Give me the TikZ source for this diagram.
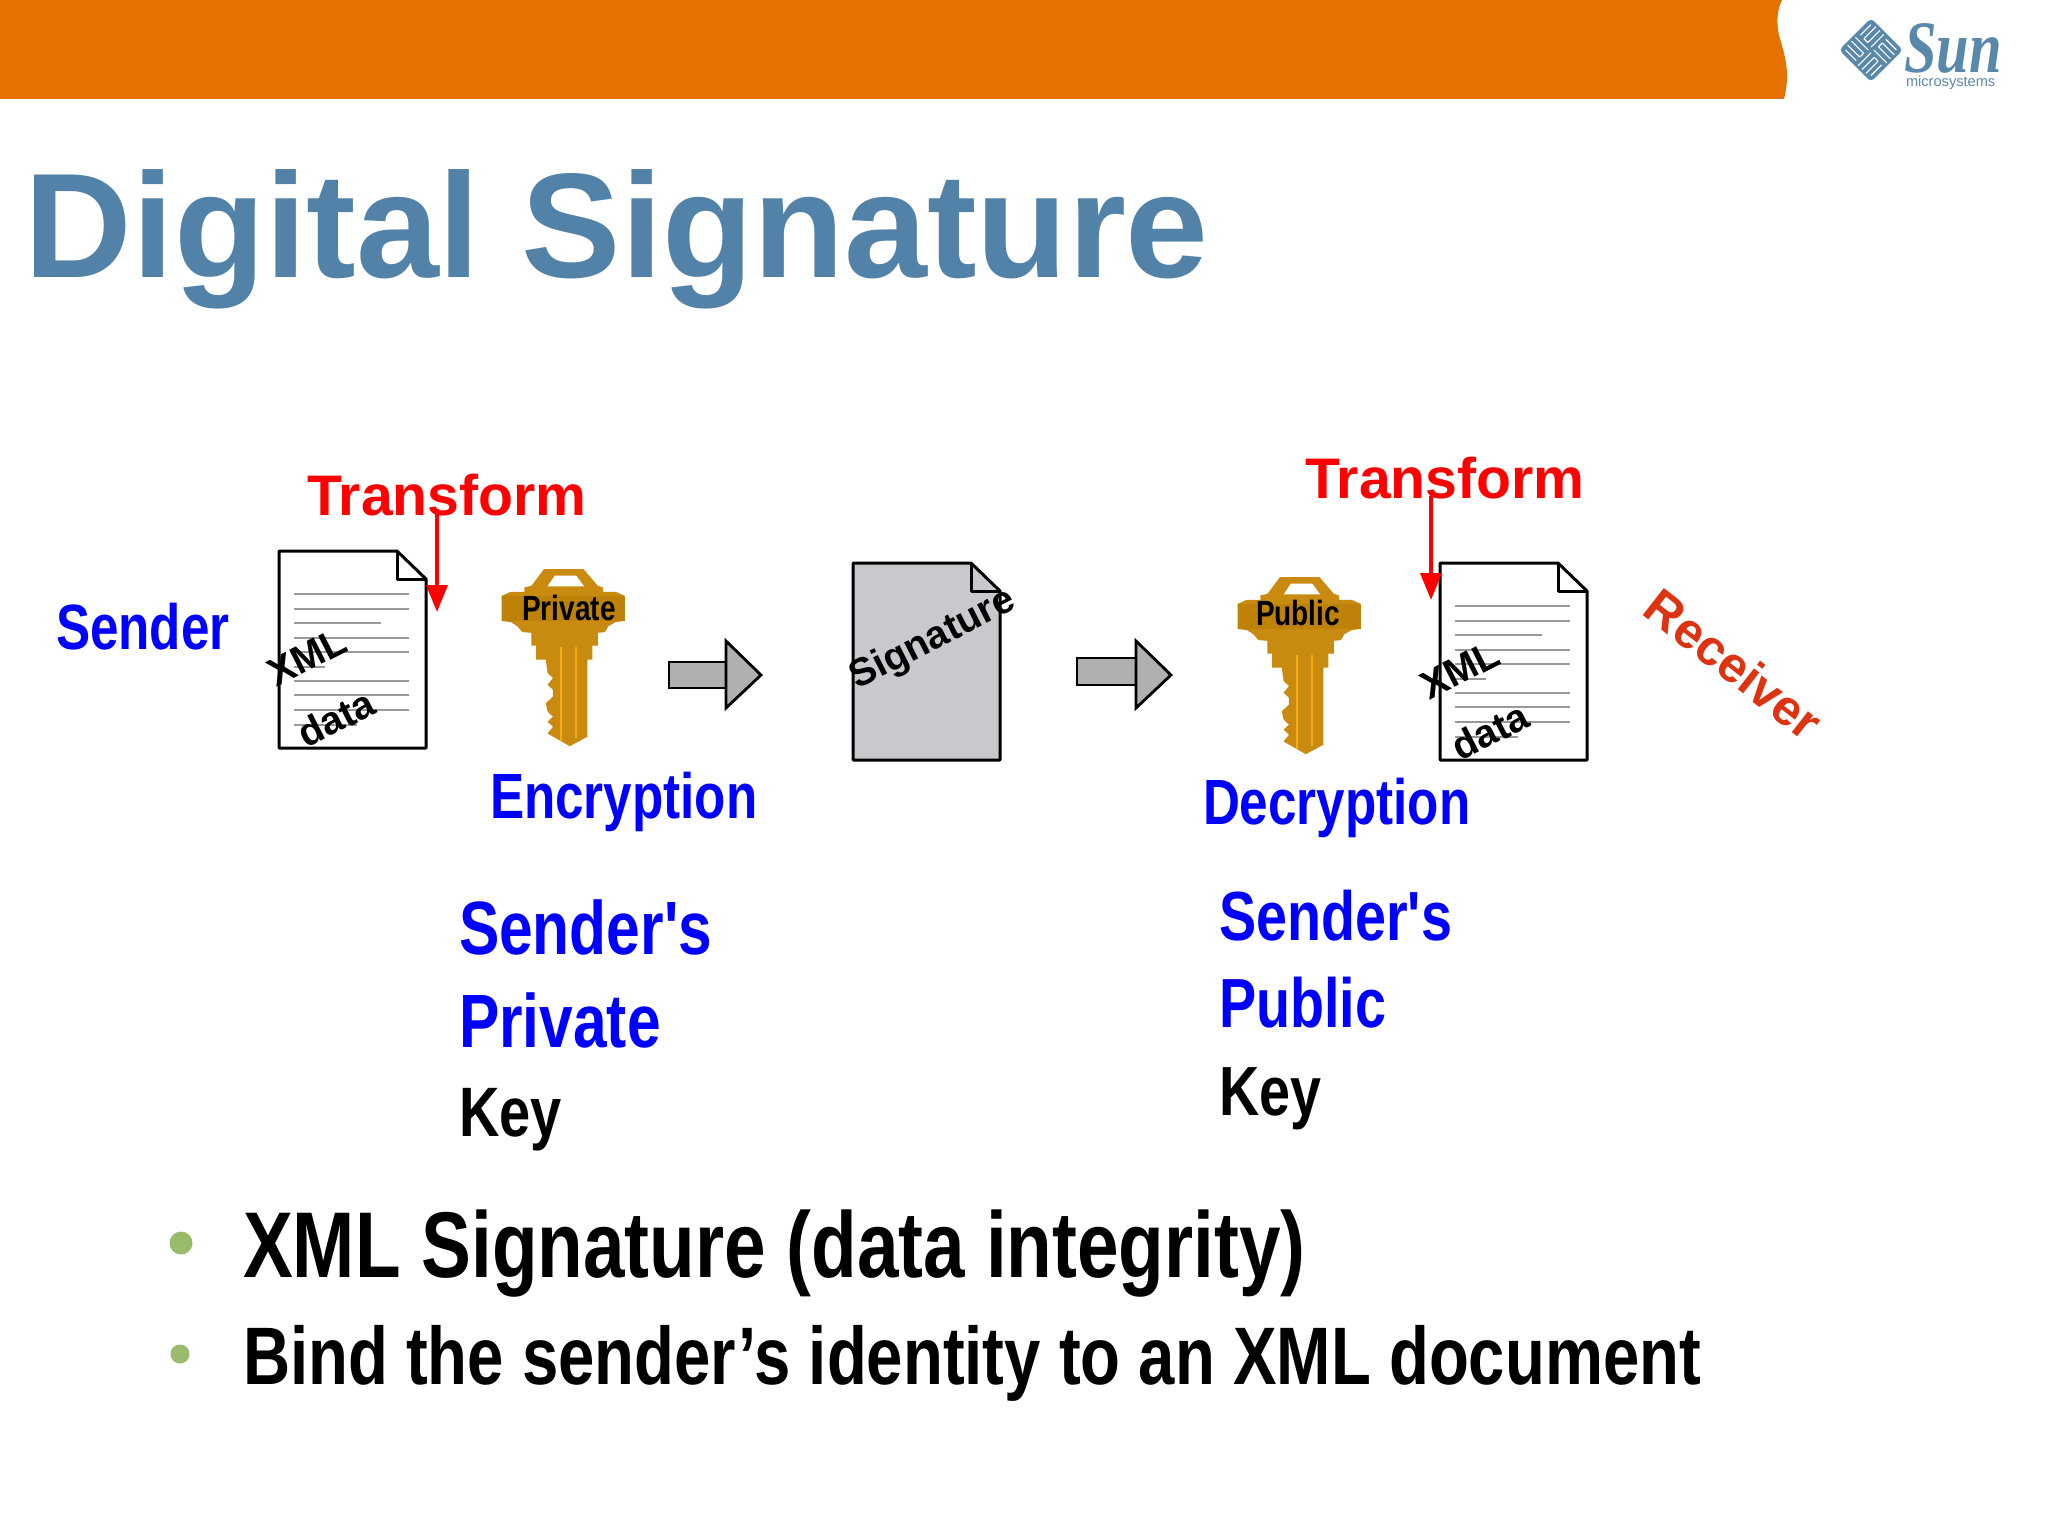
\documentclass[tikz,border=0pt]{standalone}
\usepackage{fontspec}
\setmainfont{Liberation Sans}
\newfontfamily\narrowfam[FakeStretch=0.8]{Liberation Sans}
\newfontfamily\sunfam[FakeStretch=0.79]{Liberation Serif}
\usetikzlibrary{arrows.meta}
\definecolor{bandorange}{HTML}{E57200}
\definecolor{titleblue}{HTML}{5282A8}
\definecolor{sunblue}{HTML}{5A88AB}
\definecolor{bulletgreen}{HTML}{9ABB6C}
\definecolor{recvred}{HTML}{DD3311}
\definecolor{keygold}{HTML}{C98A10}
\definecolor{keydark}{HTML}{BF8208}
\definecolor{keylight}{HTML}{F5AC10}
\definecolor{arrowgray}{HTML}{B0AFB2}
\definecolor{sigfill}{HTML}{C9C8CC}
\tikzset{
  txt/.style={anchor=base west,inner sep=0pt,outer sep=0pt},
  narrowbold/.style={txt,font=\narrowfam\bfseries\fontsize{32}{36}\selectfont},
  bluelabel/.style={narrowbold,text=blue},
  transformlabel/.style={txt,text=red,font=\bfseries\fontsize{28.6}{32}\selectfont},
  bigkey/.style={txt,font=\narrowfam\bfseries\fontsize{37.8}{40}\selectfont},
  midkey/.style={txt,font=\narrowfam\bfseries\fontsize{34.8}{38}\selectfont},
  doctext/.style={inner sep=0pt,font=\bfseries\fontsize{19.6}{22}\selectfont,rotate=27},
  keytext/.style={inner sep=0pt,font=\narrowfam\bfseries\fontsize{17.5}{20}\selectfont},
  docpage/.style={draw=black,line width=1.5pt,line join=round},
  docline/.style={draw=gray!80,line width=1.4pt},
  redarrow/.style={draw=red,line width=1.9pt,-{Triangle[width=10.5pt,length=13.5pt]}},
  blockarrow/.style={draw=black,fill=arrowgray,line width=1.4pt,line join=miter},
  bulletdot/.style={circle,fill=bulletgreen,inner sep=0pt}
}
\newcommand{\pagedoc}[1]{%
  \path[docpage,fill=#1] (0,0) -- (118,0) -- (147,28) -- (147,197) -- (0,197) -- cycle;
  \path[docpage] (118,0) -- (118,28) -- (147,28);}
\newcommand{\pagelines}{%
  \foreach \yy/\xe in {43/130,58/130,72/102,87/130,101/130,116/46,130/130,144/130,159/130,174/78}
    \path[docline] (15,\yy) -- (\xe,\yy);}
\newcommand{\keyshape}{%
  \fill[keygold] (-53,0) -- (57,0) -- (97,50) -- (112,55) -- (112,68) -- (147,68) -- (172,80) -- (172,155) -- (147,158) -- (127,170) -- (117,188) -- (97,190) -- (97,228) -- (82,228) -- (82,270) -- (68,270) -- (68,500) -- (19,528) -- (-43,490) -- (-28,470) -- (-43,455) -- (-28,440) -- (-43,425) -- (-48,400) -- (-28,380) -- (-28,360) -- (-43,345) -- (-28,325) -- (-43,310) -- (-48,270) -- (-75,270) -- (-75,228) -- (-88,228) -- (-88,190) -- (-113,188) -- (-128,170) -- (-146,158) -- (-171,155) -- (-171,80) -- (-146,68) -- (-108,68) -- (-108,55) -- (-88,50) -- cycle;
  \fill[keydark] (-171,80) -- (172,80) -- (172,155) -- (-171,155) -- cycle;
  \fill[white] (-23,20) -- (37,20) -- (59,52) -- (-43,52) -- cycle;
  \draw[keylight,line width=.9pt] (-6,232) -- (-6,512);
  \draw[keylight,line width=.9pt] (37,232) -- (37,505);}
\begin{document}
\begin{tikzpicture}[x=.5pt,y=-.5pt]
\useasboundingbox (0,0) rectangle (2048,1536);
\fill[white] (0,0) rectangle (2048,1536);
% band
\fill[bandorange] (0,0) -- (1782,0) .. controls (1776,12) and (1776,28) .. (1781,42) .. controls (1786,60) and (1790,75) .. (1784,99) -- (0,99) -- cycle;
% logo
\begin{scope}[shift={(1871,50)},rotate=-45]
  \fill[sunblue,rounded corners=2pt] (-22.5,-22.5) rectangle (22.5,22.5);
  \foreach \r in {0,90,180,270}{
    \begin{scope}[rotate=\r]
      \draw[white,line width=.55pt] (2,-2) -- (20,-2);
      \draw[white,line width=.55pt] (3,-7.5) -- (20,-7.5) ;
      \draw[white,line width=.55pt] (3,-13) -- (20,-13);
      \draw[white,line width=.55pt] (3,-18) -- (18,-18);
      \draw[white,line width=.55pt] (3,-7.5) -- (3,-13);
    \end{scope}}
\end{scope}
\node[txt,text=sunblue,font=\sunfam\bfseries\itshape\fontsize{37}{40}\selectfont] (sun) at (1904,73) {Sun};
\node[txt,text=sunblue,font=\fontsize{7.3}{9}\selectfont] (micro) at (1906,87) {microsystems};
% title
\node[txt,text=titleblue,font=\bfseries\fontsize{74.5}{80}\selectfont] (title) at (25,277) {Digital Signature};
% documents
\begin{scope}[shift={(279,551)}]\pagedoc{white}\pagelines\end{scope}
\begin{scope}[shift={(853,563)}]\pagedoc{sigfill}\end{scope}
\begin{scope}[shift={(1440,563)}]\pagedoc{white}\pagelines\end{scope}
\node[doctext] (xml1) at (307,657) {XML};
\node[doctext] (data1) at (336,718) {data};
\node[doctext] (xml2) at (1460,670) {XML};
\node[doctext] (data2) at (1490,731) {data};
\node[doctext,font=\bfseries\fontsize{19.5}{22}\selectfont] (sig) at (933,640) {Signature};
% keys
\begin{scope}[shift={(563,569)},x=.1792pt,y=-.1678pt]\keyshape\end{scope}
\begin{scope}[shift={(1299,577)},x=.1792pt,y=-.1678pt]\keyshape\end{scope}
\node[keytext] (priv) at (569,608) {Private};
\node[keytext] (pub) at (1298,613) {Public};
% block arrows
\path[blockarrow] (669,662) rectangle (726,688);
\path[blockarrow] (726,641) -- (761,675) -- (726,708) -- cycle;
\path[blockarrow] (1077,658) rectangle (1136,685);
\path[blockarrow] (1136,641) -- (1171,675) -- (1136,708) -- cycle;
% labels
\node[bluelabel] (sender) at (56,649) {Sender};
\node[transformlabel] (t1) at (307,515) {Transform};
\node[transformlabel] (t2) at (1305,498) {Transform};
\node[bluelabel] (enc) at (490,818) {Encryption};
\node[bluelabel] (dec) at (1203,824) {Decryption};
\node[bigkey,text=blue] (s1) at (459,954) {Sender's};
\node[bigkey,text=blue] (p1) at (459,1047) {Private};
\node[bigkey,font=\narrowfam\bfseries\fontsize{35}{38}\selectfont] (k1) at (459,1136) {Key};
\node[midkey,text=blue] (s2) at (1219,940) {Sender's};
\node[midkey,text=blue] (p2) at (1219,1027) {Public};
\node[midkey] (k2) at (1219,1115) {Key};
\node[inner sep=0pt,text=recvred,font=\bfseries\fontsize{25}{28}\selectfont,rotate=-38] (recv) at (1734,664) {Receiver};
% red arrows
\coordinate (t1tip) at (437,612);
\coordinate (t1src) at (437,509);
\coordinate (t2tip) at (1431,600);
\coordinate (t2src) at (1431,496);
\path[redarrow] (t1src) -- (t1tip);
\path[redarrow] (t2src) -- (t2tip);
% bullets
\node[bulletdot,minimum size=11.5pt] (b1) at (181,1243) {};
\node[bulletdot,minimum size=9.5pt] (b2) at (180,1354) {};
\node[txt,font=\narrowfam\bfseries\fontsize{46.7}{50}\selectfont] (l1) at (243,1277) {XML Signature (data integrity)};
\node[txt,font=\narrowfam\bfseries\fontsize{40.8}{44}\selectfont] (l2) at (243,1384) {Bind the sender’s identity to an XML document};
\end{tikzpicture}
\end{document}
